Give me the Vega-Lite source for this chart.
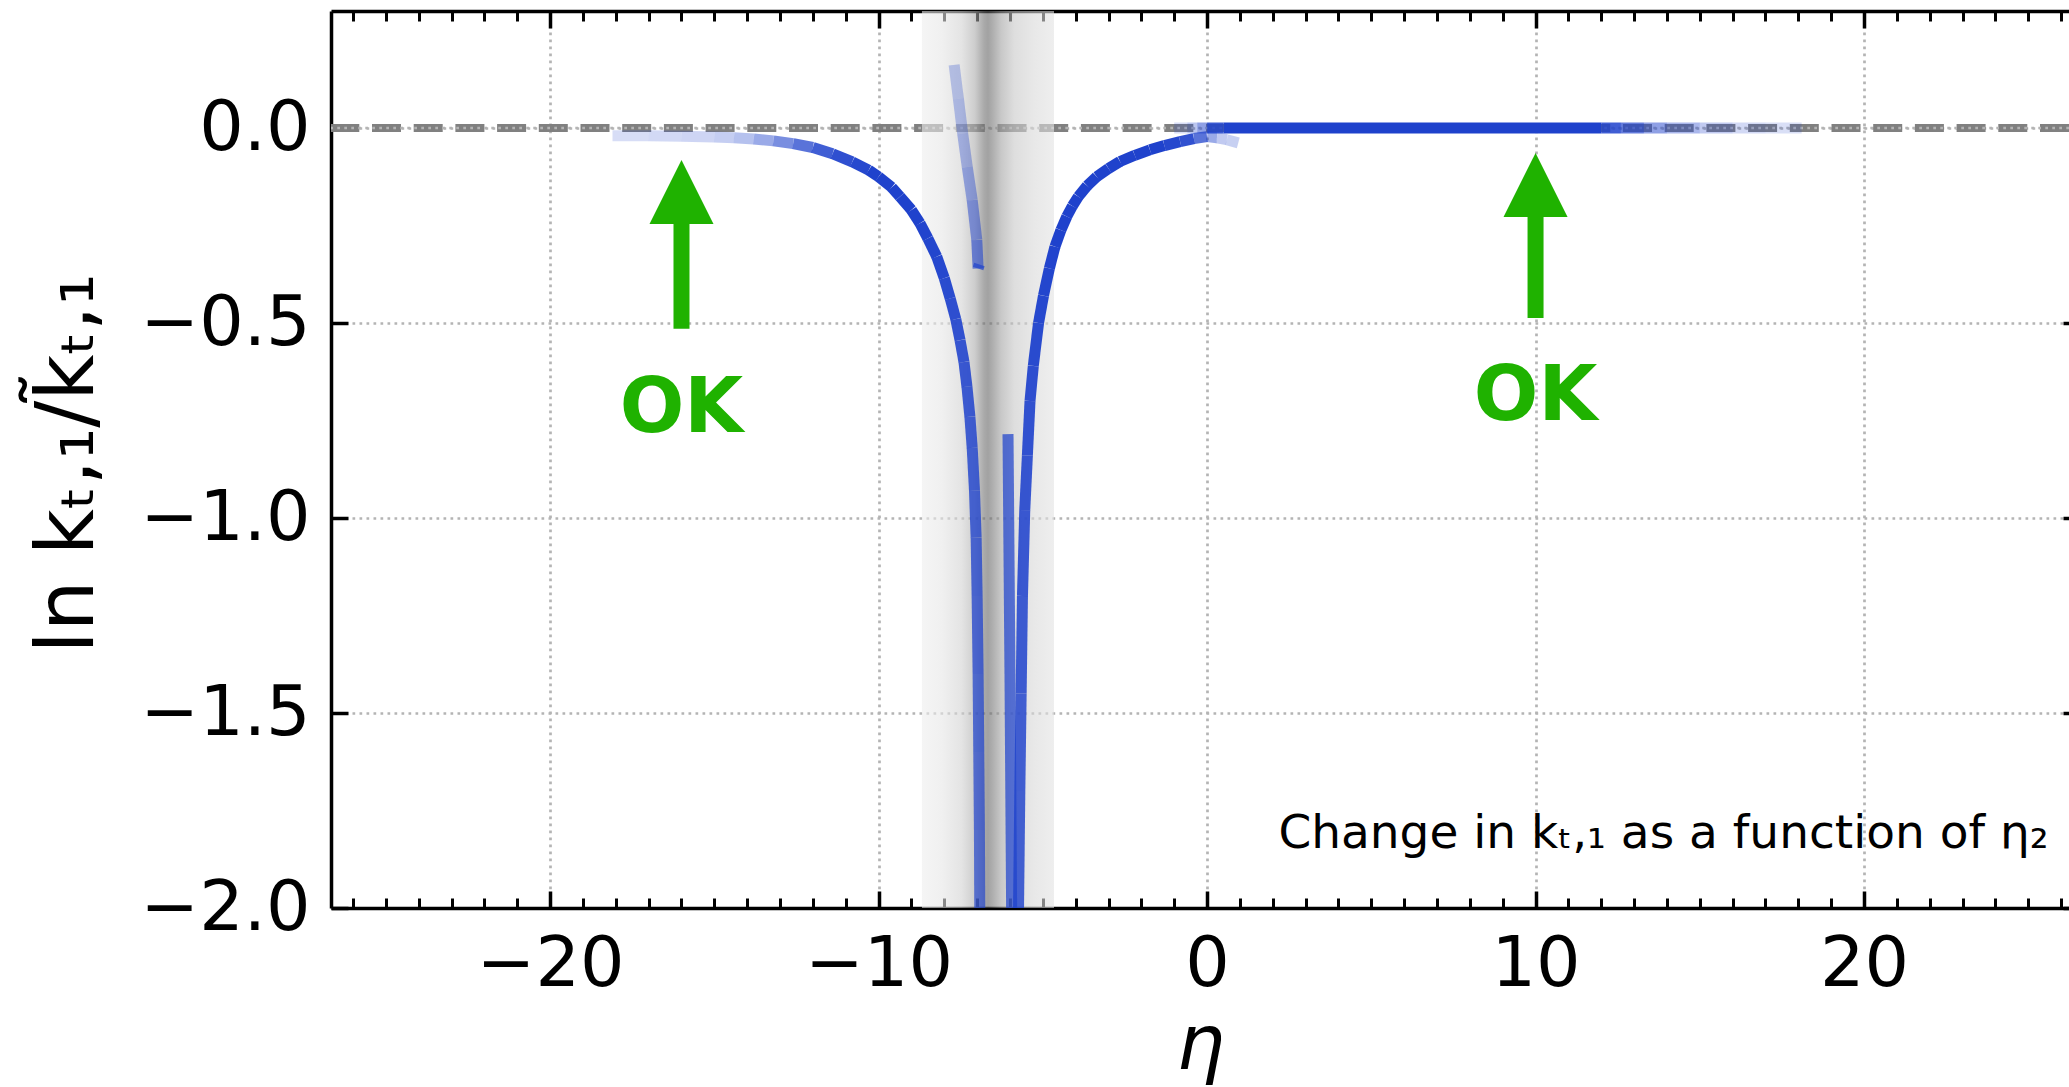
{
  "$schema": "https://vega.github.io/schema/vega-lite/v6.json",
  "width": 1738,
  "height": 897,
  "autosize": {"type": "none"},
  "padding": {"left": 331, "top": 11, "right": 0, "bottom": 179},
  "background": "white",
  "config": {"view": {"stroke": null}, "font": "DejaVu Sans"},
  "datasets": {
    "curve": [
      {"seg": "L", "x": -18.1, "y": -0.020, "w": 0.18},
      {"seg": "L", "x": -17.0, "y": -0.020, "w": 0.20},
      {"seg": "L", "x": -16.0, "y": -0.021, "w": 0.22},
      {"seg": "L", "x": -15.0, "y": -0.023, "w": 0.26},
      {"seg": "L", "x": -14.4, "y": -0.025, "w": 0.33},
      {"seg": "L", "x": -13.8, "y": -0.028, "w": 0.45},
      {"seg": "L", "x": -13.2, "y": -0.033, "w": 0.60},
      {"seg": "L", "x": -12.6, "y": -0.040, "w": 0.74},
      {"seg": "L", "x": -12.0, "y": -0.050, "w": 0.85},
      {"seg": "L", "x": -11.4, "y": -0.066, "w": 0.93},
      {"seg": "L", "x": -10.8, "y": -0.087, "w": 0.97},
      {"seg": "L", "x": -10.3, "y": -0.108, "w": 1.0},
      {"seg": "L", "x": -10.0, "y": -0.125, "w": 1.0},
      {"seg": "L", "x": -9.6, "y": -0.152, "w": 1.0},
      {"seg": "L", "x": -9.35, "y": -0.176, "w": 1.0},
      {"seg": "L", "x": -9.0, "y": -0.210, "w": 1.0},
      {"seg": "L", "x": -8.74, "y": -0.244, "w": 0.99},
      {"seg": "L", "x": -8.5, "y": -0.283, "w": 0.98},
      {"seg": "L", "x": -8.23, "y": -0.330, "w": 0.97},
      {"seg": "L", "x": -8.0, "y": -0.385, "w": 0.95},
      {"seg": "L", "x": -7.82, "y": -0.437, "w": 0.93},
      {"seg": "L", "x": -7.65, "y": -0.490, "w": 0.91},
      {"seg": "L", "x": -7.52, "y": -0.544, "w": 0.89},
      {"seg": "L", "x": -7.40, "y": -0.600, "w": 0.87},
      {"seg": "L", "x": -7.31, "y": -0.663, "w": 0.85},
      {"seg": "L", "x": -7.22, "y": -0.740, "w": 0.83},
      {"seg": "L", "x": -7.15, "y": -0.820, "w": 0.81},
      {"seg": "L", "x": -7.08, "y": -0.930, "w": 0.79},
      {"seg": "L", "x": -7.03, "y": -1.050, "w": 0.77},
      {"seg": "L", "x": -7.00, "y": -1.200, "w": 0.75},
      {"seg": "L", "x": -6.97, "y": -1.400, "w": 0.72},
      {"seg": "L", "x": -6.95, "y": -1.600, "w": 0.70},
      {"seg": "L", "x": -6.93, "y": -1.800, "w": 0.68},
      {"seg": "L", "x": -6.92, "y": -2.000, "w": 0.67},
      {"seg": "R", "x": -5.74, "y": -2.000, "w": 0.82},
      {"seg": "R", "x": -5.70, "y": -1.700, "w": 0.83},
      {"seg": "R", "x": -5.66, "y": -1.450, "w": 0.85},
      {"seg": "R", "x": -5.62, "y": -1.200, "w": 0.87},
      {"seg": "R", "x": -5.55, "y": -0.980, "w": 0.89},
      {"seg": "R", "x": -5.47, "y": -0.840, "w": 0.91},
      {"seg": "R", "x": -5.39, "y": -0.700, "w": 0.93},
      {"seg": "R", "x": -5.29, "y": -0.610, "w": 0.95},
      {"seg": "R", "x": -5.13, "y": -0.500, "w": 0.97},
      {"seg": "R", "x": -4.98, "y": -0.430, "w": 0.98},
      {"seg": "R", "x": -4.80, "y": -0.360, "w": 0.99},
      {"seg": "R", "x": -4.63, "y": -0.304, "w": 1.0},
      {"seg": "R", "x": -4.45, "y": -0.262, "w": 1.0},
      {"seg": "R", "x": -4.27, "y": -0.227, "w": 1.0},
      {"seg": "R", "x": -4.10, "y": -0.200, "w": 1.0},
      {"seg": "R", "x": -3.92, "y": -0.176, "w": 1.0},
      {"seg": "R", "x": -3.65, "y": -0.148, "w": 1.0},
      {"seg": "R", "x": -3.36, "y": -0.125, "w": 1.0},
      {"seg": "R", "x": -3.00, "y": -0.104, "w": 1.0},
      {"seg": "R", "x": -2.65, "y": -0.086, "w": 1.0},
      {"seg": "R", "x": -2.20, "y": -0.070, "w": 1.0},
      {"seg": "R", "x": -1.74, "y": -0.056, "w": 1.0},
      {"seg": "R", "x": -1.30, "y": -0.045, "w": 0.97},
      {"seg": "R", "x": -0.82, "y": -0.035, "w": 0.92},
      {"seg": "R", "x": -0.40, "y": -0.027, "w": 0.74},
      {"seg": "R", "x": 0.00, "y": -0.022, "w": 0.45},
      {"seg": "R", "x": 0.30, "y": -0.025, "w": 0.28},
      {"seg": "R", "x": 0.60, "y": -0.030, "w": 0.25},
      {"seg": "R", "x": 0.95, "y": -0.038, "w": 0.22},
      {"seg": "C", "x": -7.70, "y": 0.162, "w": 0.27},
      {"seg": "C", "x": -7.57, "y": 0.075, "w": 0.30},
      {"seg": "C", "x": -7.44, "y": -0.014, "w": 0.35},
      {"seg": "C", "x": -7.30, "y": -0.100, "w": 0.42},
      {"seg": "C", "x": -7.15, "y": -0.185, "w": 0.50},
      {"seg": "C", "x": -7.01, "y": -0.287, "w": 0.60},
      {"seg": "C", "x": -6.97, "y": -0.360, "w": 0.68},
      {"seg": "C", "x": -6.93, "y": -0.350, "w": 0.68},
      {"seg": "D", "x": -6.06, "y": -0.785, "w": 0.72},
      {"seg": "D", "x": -6.00, "y": -1.400, "w": 0.72},
      {"seg": "D", "x": -5.95, "y": -2.000, "w": 0.72},
      {"seg": "E", "x": -1.0, "y": 0, "w": 0.18},
      {"seg": "E", "x": -0.6, "y": 0, "w": 0.30},
      {"seg": "E", "x": -0.3, "y": 0, "w": 0.50},
      {"seg": "E", "x": 0.0, "y": 0, "w": 0.88},
      {"seg": "E", "x": 0.5, "y": 0, "w": 1.0},
      {"seg": "E", "x": 12.0, "y": 0, "w": 0.85},
      {"seg": "E", "x": 12.6, "y": 0, "w": 0.70},
      {"seg": "E", "x": 13.3, "y": 0, "w": 0.50},
      {"seg": "E", "x": 14.0, "y": 0, "w": 0.38},
      {"seg": "E", "x": 15.0, "y": 0, "w": 0.28},
      {"seg": "E", "x": 16.0, "y": 0, "w": 0.20},
      {"seg": "E", "x": 17.0, "y": 0, "w": 0.17},
      {"seg": "E", "x": 18.1, "y": 0, "w": 0.15}
    ],
    "ann": [
      {"x": -16, "tip": -0.082, "base": -0.225, "tail": -0.515, "ty": -0.779},
      {"x": 10, "tip": -0.064, "base": -0.207, "tail": -0.487, "ty": -0.748}
    ],
    "band": [{"x0": -8.68, "x1": -4.66}],
    "ref": [{"y": 0}],
    "caption": [{"x": 25.62, "y": -1.846, "text": "Change in k\u209c,\u2081 as a function of \u03b7\u2082"}]
  },
  "resolve": {"axis": {"x": "independent", "y": "independent"}},
  "layer": [
    {
      "data": {"name": "ann"},
      "mark": {"type": "point", "opacity": 0},
      "encoding": {
        "x": {"field": "x", "type": "quantitative", "scale": {"domain": [-26.67, 26.24], "nice": false, "zero": false},
          "axis": {"orient": "bottom", "values": [-26,-25,-24,-23,-22,-21,-20,-19,-18,-17,-16,-15,-14,-13,-12,-11,-10,-9,-8,-7,-6,-5,-4,-3,-2,-1,0,1,2,3,4,5,6,7,8,9,10,11,12,13,14,15,16,17,18,19,20,21,22,23,24,25,26],
            "labels": false, "domain": false, "grid": false, "title": null, "tickSize": -10, "tickWidth": 3, "tickColor": "black", "zindex": 0}},
        "y": {"field": "tip", "type": "quantitative", "scale": {"domain": [-2.0, 0.3], "nice": false, "zero": false}, "axis": null}
      }
    },
    {
      "data": {"name": "ann"},
      "mark": {"type": "point", "opacity": 0},
      "encoding": {
        "x": {"field": "x", "type": "quantitative", "scale": {"domain": [-26.67, 26.24], "nice": false, "zero": false},
          "axis": {"orient": "top", "values": [-26,-25,-24,-23,-22,-21,-20,-19,-18,-17,-16,-15,-14,-13,-12,-11,-10,-9,-8,-7,-6,-5,-4,-3,-2,-1,0,1,2,3,4,5,6,7,8,9,10,11,12,13,14,15,16,17,18,19,20,21,22,23,24,25,26],
            "labels": false, "domain": false, "grid": false, "title": null, "tickSize": -10, "tickWidth": 3, "tickColor": "black", "zindex": 0}},
        "y": {"field": "tip", "type": "quantitative", "scale": {"domain": [-2.0, 0.3], "nice": false, "zero": false}, "axis": null}
      }
    },
    {
      "data": {"name": "ann"},
      "mark": {"type": "point", "opacity": 0},
      "encoding": {
        "x": {"field": "x", "type": "quantitative", "scale": {"domain": [-26.67, 26.24], "nice": false, "zero": false},
          "axis": {"orient": "top", "values": [-20, -10, 0, 10, 20], "labels": false, "grid": false, "title": null,
            "tickSize": -17, "tickWidth": 3.5, "tickColor": "black", "domain": true, "domainColor": "black", "domainWidth": 3.5, "zindex": 0}},
        "y": {"field": "tip", "type": "quantitative", "scale": {"domain": [-2.0, 0.3], "nice": false, "zero": false},
          "axis": {"orient": "right", "values": [0, -0.5, -1.0, -1.5, -2.0], "labels": false, "grid": false, "title": null,
            "tickSize": -6, "tickWidth": 3.5, "tickColor": "black", "domain": false, "zindex": 0}}
      }
    },
    {
      "data": {"name": "ref"},
      "mark": {"type": "rule", "color": "#808080", "strokeWidth": 8, "strokeDash": [29, 12.7], "strokeCap": "butt"},
      "encoding": {
        "y": {"field": "y", "type": "quantitative", "scale": {"domain": [-2.0, 0.3], "nice": false, "zero": false}, "axis": null}
      }
    },
    {
      "data": {"name": "ref"},
      "mark": {"type": "rule", "color": "#b4b4b4", "strokeWidth": 2.7, "strokeDash": [2.7, 4.3], "strokeCap": "butt"},
      "encoding": {
        "y": {"field": "y", "type": "quantitative", "scale": {"domain": [-2.0, 0.3], "nice": false, "zero": false}, "axis": null}
      }
    },
    {
      "data": {"name": "band"},
      "mark": {
        "type": "rect",
        "color": {
          "gradient": "linear", "x1": 0, "y1": 0, "x2": 1, "y2": 0,
          "stops": [
            {"offset": 0.0, "color": "rgba(238,238,238,0.6)"},
            {"offset": 0.15, "color": "rgba(230,230,230,0.6)"},
            {"offset": 0.30, "color": "rgba(210,210,210,0.6)"},
            {"offset": 0.40, "color": "rgba(172,172,172,0.6)"},
            {"offset": 0.47, "color": "rgba(113,113,113,0.6)"},
            {"offset": 0.50, "color": "rgba(100,100,100,0.6)"},
            {"offset": 0.53, "color": "rgba(117,117,117,0.6)"},
            {"offset": 0.60, "color": "rgba(163,163,163,0.6)"},
            {"offset": 0.70, "color": "rgba(200,200,200,0.6)"},
            {"offset": 0.85, "color": "rgba(217,217,217,0.6)"},
            {"offset": 1.0, "color": "rgba(227,227,227,0.6)"}
          ]
        }
      },
      "encoding": {
        "x": {"field": "x0", "type": "quantitative", "scale": {"domain": [-26.67, 26.24], "nice": false, "zero": false}, "axis": null},
        "x2": {"field": "x1"}
      }
    },
    {
      "data": {"name": "curve"},
      "transform": [
        {"window": [{"op": "lead", "field": "x", "as": "xn"}, {"op": "lead", "field": "y", "as": "yn"}], "groupby": ["seg"], "sort": [{"field": "x", "order": "ascending"}]},
        {"filter": "datum.xn != null"}
      ],
      "mark": {"type": "rule", "color": "#1f42cc", "strokeWidth": 11, "strokeCap": "butt", "clip": true},
      "encoding": {
        "x": {"field": "x", "type": "quantitative", "scale": {"domain": [-26.67, 26.24], "nice": false, "zero": false},
          "axis": {"orient": "bottom", "values": [-20, -10, 0, 10, 20], "format": "d",
            "labelFontSize": 70, "labelFont": "DejaVu Sans", "labelColor": "black", "labelPadding": 39, "labelOverlap": false, "labelFlush": false,
            "tickSize": -17, "tickWidth": 3.5, "tickColor": "black",
            "domain": true, "domainColor": "black", "domainWidth": 3.5,
            "grid": true, "gridColor": "#b4b4b4", "gridWidth": 2.7, "gridDash": [2.7, 4.3],
            "title": "\u03b7", "titleFont": "DejaVu Sans", "titleFontSize": 76, "titleFontStyle": "italic", "titleFontWeight": "normal", "titleColor": "black",
            "titleBaseline": "alphabetic", "titleY": 160, "zindex": 0}},
        "y": {"field": "y", "type": "quantitative", "scale": {"domain": [-2.0, 0.3], "nice": false, "zero": false},
          "axis": {"orient": "left", "values": [0, -0.5, -1.0, -1.5, -2.0], "format": ".1f",
            "labelFontSize": 70, "labelFont": "DejaVu Sans", "labelColor": "black", "labelPadding": 38, "labelOverlap": false, "labelFlush": false,
            "tickSize": -17, "tickWidth": 3.5, "tickColor": "black",
            "domain": true, "domainColor": "black", "domainWidth": 3.5,
            "grid": true, "gridColor": "#b4b4b4", "gridWidth": 2.7, "gridDash": [2.7, 4.3],
            "title": "ln k\u209c,\u2081/k\u0303\u209c,\u2081", "titleFont": "DejaVu Sans", "titleFontSize": 80, "titleFontWeight": "normal", "titleColor": "black",
            "titleBaseline": "alphabetic", "titleAngle": -90, "titleX": -239, "titleY": 452, "titleAlign": "center", "zindex": 0}},
        "x2": {"field": "xn"},
        "y2": {"field": "yn"},
        "opacity": {"field": "w", "type": "quantitative", "scale": {"domain": [0, 1], "range": [0, 1]}, "legend": null}
      }
    },
    {
      "data": {"name": "ann"},
      "mark": {"type": "rule", "color": "#1fb200", "strokeWidth": 16, "strokeCap": "butt"},
      "encoding": {
        "x": {"field": "x", "type": "quantitative", "scale": {"domain": [-26.67, 26.24], "nice": false, "zero": false}, "axis": null},
        "y": {"field": "tail", "type": "quantitative", "scale": {"domain": [-2.0, 0.3], "nice": false, "zero": false}, "axis": null},
        "y2": {"field": "base"}
      }
    },
    {
      "data": {"name": "ann"},
      "mark": {"type": "point", "shape": "M0,0L1,2L-1,2Z", "filled": true, "size": 4096, "color": "#1fb200", "opacity": 1},
      "encoding": {
        "x": {"field": "x", "type": "quantitative", "scale": {"domain": [-26.67, 26.24], "nice": false, "zero": false}, "axis": null},
        "y": {"field": "tip", "type": "quantitative", "scale": {"domain": [-2.0, 0.3], "nice": false, "zero": false}, "axis": null}
      }
    },
    {
      "data": {"name": "ann"},
      "mark": {"type": "text", "text": "OK", "font": "DejaVu Sans", "fontSize": 76, "fontWeight": "bold", "color": "#1fb200", "align": "center", "baseline": "alphabetic"},
      "encoding": {
        "x": {"field": "x", "type": "quantitative", "scale": {"domain": [-26.67, 26.24], "nice": false, "zero": false}, "axis": null},
        "y": {"field": "ty", "type": "quantitative", "scale": {"domain": [-2.0, 0.3], "nice": false, "zero": false}, "axis": null}
      }
    },
    {
      "data": {"name": "caption"},
      "mark": {"type": "text", "font": "DejaVu Sans", "fontSize": 47, "color": "black", "align": "right", "baseline": "alphabetic"},
      "encoding": {
        "x": {"field": "x", "type": "quantitative", "scale": {"domain": [-26.67, 26.24], "nice": false, "zero": false}, "axis": null},
        "y": {"field": "y", "type": "quantitative", "scale": {"domain": [-2.0, 0.3], "nice": false, "zero": false}, "axis": null},
        "text": {"field": "text"}
      }
    }
  ]
}
